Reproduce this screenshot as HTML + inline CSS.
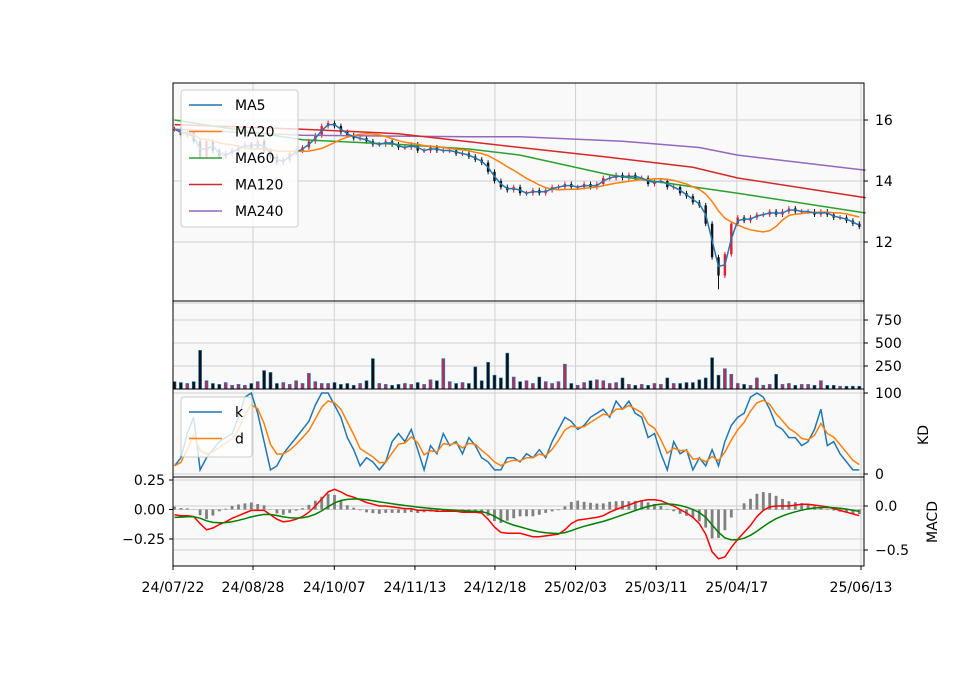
<!DOCTYPE html>
<html><head><meta charset="utf-8"><style>
html,body{margin:0;padding:0;background:#fff}
svg text{font-family:"DejaVu Sans","Liberation Sans",sans-serif;font-size:14px;fill:#000}
</style></head><body>
<svg id="c" width="960" height="690" viewBox="0 0 960 690" xmlns="http://www.w3.org/2000/svg"></svg>
<script>
const dateLabels=["24/07/22","24/08/28","24/10/07","24/11/13","24/12/18","25/02/03","25/03/11","25/04/17","25/06/13"];
const labelIdx=[0,12.5,25.2,37.8,50.3,62.9,75.5,88.1,107.5];
const closes=[15.7,15.5,15.6,15.3,14.8,15.3,15.0,14.8,14.9,15.0,15.1,15.2,15.1,15.3,15.0,14.8,14.6,14.7,14.9,15.0,15.1,15.3,15.5,15.8,15.9,15.8,15.6,15.5,15.4,15.4,15.3,15.2,15.2,15.3,15.2,15.1,15.1,15.2,15.0,15.0,15.1,15.0,15.0,15.0,14.9,14.9,14.8,14.7,14.6,14.3,14.0,13.8,13.7,13.8,13.6,13.6,13.7,13.6,13.7,13.8,13.8,13.9,13.8,13.8,13.9,13.8,13.9,14.1,14.1,14.2,14.1,14.2,14.1,14.1,13.9,14.0,14.0,13.8,13.8,13.6,13.5,13.3,13.2,12.6,11.5,10.9,11.6,12.6,12.8,12.7,12.8,12.9,12.9,13.0,12.9,13.0,13.1,13.0,13.0,13.0,12.9,13.0,12.9,12.8,12.8,12.7,12.6,12.5];
const volumes=[80,70,60,80,420,90,60,50,70,40,50,40,60,80,200,180,60,70,50,90,60,170,80,60,60,70,50,60,40,60,90,330,60,50,40,50,60,50,70,50,100,90,330,80,60,70,60,240,90,290,150,120,390,130,80,90,60,130,80,60,80,270,60,40,70,90,100,90,60,70,120,50,40,50,40,60,50,120,60,60,70,70,100,120,340,150,220,160,60,50,40,120,40,50,160,50,60,40,50,50,40,90,40,40,30,30,30,30];
const kValues=[10,20,50,70,5,20,30,40,45,50,70,95,100,75,40,5,10,25,35,45,55,65,85,100,100,85,70,45,30,10,20,15,5,15,40,50,40,55,30,5,35,25,50,35,40,25,45,35,20,15,5,5,20,20,15,25,20,30,20,40,55,70,65,55,60,70,75,80,70,90,80,90,75,70,45,50,25,5,40,25,30,5,20,10,30,10,40,60,70,75,95,100,95,80,60,55,45,45,35,40,55,80,35,40,25,15,5,5];
const difValues=[-0.10,-0.11,-0.11,-0.12,-0.20,-0.27,-0.25,-0.21,-0.18,-0.14,-0.11,-0.08,-0.05,-0.05,-0.05,-0.10,-0.15,-0.18,-0.17,-0.15,-0.12,-0.07,0.00,0.08,0.16,0.19,0.16,0.12,0.10,0.07,0.04,0.02,0.00,0.00,-0.01,-0.02,-0.03,-0.03,-0.05,-0.05,-0.05,-0.06,-0.06,-0.06,-0.06,-0.07,-0.07,-0.07,-0.08,-0.15,-0.24,-0.30,-0.31,-0.31,-0.31,-0.33,-0.35,-0.35,-0.34,-0.33,-0.32,-0.27,-0.20,-0.16,-0.15,-0.14,-0.13,-0.11,-0.07,-0.04,-0.01,0.01,0.04,0.06,0.07,0.07,0.06,0.03,0.00,-0.04,-0.08,-0.13,-0.20,-0.32,-0.52,-0.60,-0.58,-0.47,-0.38,-0.30,-0.22,-0.12,-0.05,-0.01,0.00,0.00,0.00,0.01,0.02,0.02,0.01,0.00,-0.01,-0.03,-0.05,-0.07,-0.09,-0.11];
const ma60Pts=[[0,16.0],[20,15.35],[35,15.2],[46,15.05],[54,14.85],[68,14.2],[73,14.05],[88,13.6],[108,12.95]];
const ma120Pts=[[0,15.85],[20,15.7],[35,15.55],[54,15.1],[67,14.8],[81,14.45],[88,14.1],[108,13.45]];
const ma240Pts=[[0,15.7],[20,15.5],[46,15.45],[54,15.45],[70,15.3],[82,15.1],[88,14.85],[108,14.35]];

const S=document.getElementById('c');const NS='http://www.w3.org/2000/svg';
function mk(t,a,p){const e=document.createElementNS(NS,t);for(const k in a)e.setAttribute(k,a[k]);(p||S).appendChild(e);return e;}
const X0=173,X1=864,DX=6.4;
const xi=i=>X0+i*DX;
const xc=i=>X0+1.5+i*DX;
const yP=v=>120+(16-v)*30.5;
const yV=v=>389-v*23/250;
const yK=v=>474-v*0.81;
const yMr=v=>506-v*88;
const yMl=v=>509.5-v*118;
const panels=[[83,301,'price-panel'],[301,389,'volume-panel'],[389,477,'kd-panel'],[477,566,'macd-panel']];
panels.forEach(p=>{const r=mk('rect',{x:X0,y:p[0],width:X1-X0,height:p[1]-p[0],fill:'#f9f9f9'});});
const gx=labelIdx.map(xi);
function vgrid(y0,y1){gx.forEach(x=>mk('line',{x1:x,x2:x,y1:y0,y2:y1,stroke:'#d0d0d0','stroke-width':1}));}
function hgrid(ys){ys.forEach(y=>mk('line',{x1:X0,x2:X1,y1:y,y2:y,stroke:'#d0d0d0','stroke-width':1}));}
panels.forEach(p=>vgrid(p[0],p[1]));
hgrid([16,14,12,10].map(yP));hgrid([250,500,750].map(yV));hgrid([0,100].map(yK));hgrid([0,-0.5].map(yMr));hgrid([0.25,0,-0.25].map(yMl));
function poly(pts,color,w,name){const l=mk('polyline',{points:pts.map(p=>p[0].toFixed(1)+','+p[1].toFixed(1)).join(' '),fill:'none',stroke:color,'stroke-width':w||1.5});return l;}
for(let i=0;i<closes.length;i++){const c=closes[i],o=i?closes[i-1]:c;const up=c>=o;const col=up?'#e8192c':'#111';
 const w=mk('line',{x1:xc(i),x2:xc(i),y1:yP(Math.max(o,c)+0.08),y2:yP(Math.min(o,c)-(i==85?0.45:0.08)),stroke:col,'stroke-width':1});
 
 const b=mk('rect',{x:xc(i)-1.2,y:yP(Math.max(o,c)),width:2.4,height:Math.max(1,Math.abs(yP(o)-yP(c))),fill:col});
 }
function rolling(n){return closes.map((_,i)=>{const s=closes.slice(Math.max(0,i-n+1),i+1);return s.reduce((a,b)=>a+b,0)/s.length;});}
poly(ma240Pts.map(p=>[xc(p[0]),yP(p[1])]),'#9467bd',1.5,'ma240-line');
poly(ma120Pts.map(p=>[xc(p[0]),yP(p[1])]),'#d62728',1.5,'ma120-line');
poly(ma60Pts.map(p=>[xc(p[0]),yP(p[1])]),'#2ca02c',1.5,'ma60-line');
poly(rolling(10).map((v,i)=>[xc(i),yP(v)]),'#ff7f0e',1.5,'ma20-line');
poly(rolling(2).map((v,i)=>[xc(i),yP(v)]),'#1f77b4',1.5,'ma5-line');
volumes.forEach((v,i)=>{const up=i&&closes[i]>=closes[i-1];const r=mk('rect',{x:xc(i)-1.5,y:yV(v),width:3,height:389-yV(v),fill:up?'#b0305a':'#111',stroke:'#1f77b4','stroke-width':0.6});
 });
const dValues=[];kValues.forEach((k,i)=>dValues.push(i?dValues[i-1]*0.55+k*0.45:k));
poly(kValues.map((v,i)=>[xc(i),yK(v)]),'#1f77b4',1.5,'k-line');
poly(dValues.map((v,i)=>[xc(i),yK(v)]),'#ff7f0e',1.5,'d-line');
const deaValues=[];difValues.forEach((v,i)=>deaValues.push(i?deaValues[i-1]*0.78+v*0.22:v-0.03));
difValues.forEach((v,i)=>{const h=(v-deaValues[i])*0.8;const y=yMl(h);const r=mk('rect',{x:xc(i)-1.4,y:Math.min(y,yMl(0)),width:2.8,height:Math.abs(y-yMl(0)),fill:'#808080'});
 });
poly(difValues.map((v,i)=>[xc(i),yMr(v)]),'#ff0000',1.5,'dif-line');
poly(deaValues.map((v,i)=>[xc(i),yMr(v)]),'#008000',1.5,'dea-line');
panels.forEach(p=>mk('rect',{x:X0,y:p[0],width:X1-X0,height:p[1]-p[0],fill:'none',stroke:'#000','stroke-width':1}));
function txt(x,y,s,anchor,name,extra){const t=mk('text',Object.assign({x:x,y:y,'text-anchor':anchor||'start'},extra||{}));t.textContent=s;return t;}
function rtick(y,s,name){mk('line',{x1:X1,x2:X1+4,y1:y,y2:y,stroke:'#000'});txt(X1+11,y+5,s,'start',name);}
[16,14,12].forEach(v=>rtick(yP(v),String(v),'price-tick'));
[750,500,250].forEach(v=>rtick(yV(v),String(v),'volume-tick'));
rtick(yK(100),'100','kd-tick');rtick(yK(0),'0','kd-tick');
rtick(yMr(0),'0.0','macd-tick');rtick(yMr(-0.5),'−0.5','macd-tick');
[[0.25,'0.25'],[0,'0.00'],[-0.25,'−0.25']].forEach(a=>{const y=yMl(a[0]);mk('line',{x1:X0-4,x2:X0,y1:y,y2:y,stroke:'#000'});txt(X0-8,y+5,a[1],'end','macd-left-tick');});
dateLabels.forEach((s,i)=>{const x=gx[i];mk('line',{x1:x,x2:x,y1:566,y2:570,stroke:'#000'});txt(x,592,s,'middle','x-date-label');});
txt(0,0,'KD','middle','kd-axis-title',{transform:'translate(928,435) rotate(-90)'});
txt(0,0,'MACD','middle','macd-axis-title',{transform:'translate(937,522) rotate(-90)'});
function legend(x,y,w,h,items,name){const g=mk('g',{});
 mk('rect',{x:x,y:y,width:w,height:h,rx:3,fill:'#fff','fill-opacity':0.8,stroke:'#ccc'},g);
 items.forEach((it,k)=>{const yy=y+15+k*26.5;mk('line',{x1:x+8,x2:x+41,y1:yy,y2:yy,stroke:it[1],'stroke-width':1.5},g);
 const t=mk('text',{x:x+54,y:yy+5},g);t.textContent=it[0];});}
legend(181,90,117,137,[['MA5','#1f77b4'],['MA20','#ff7f0e'],['MA60','#2ca02c'],['MA120','#d62728'],['MA240','#9467bd']],'price-legend');
legend(181,397,71,60,[['k','#1f77b4'],['d','#ff7f0e']],'kd-legend');
</script>
</body></html>
